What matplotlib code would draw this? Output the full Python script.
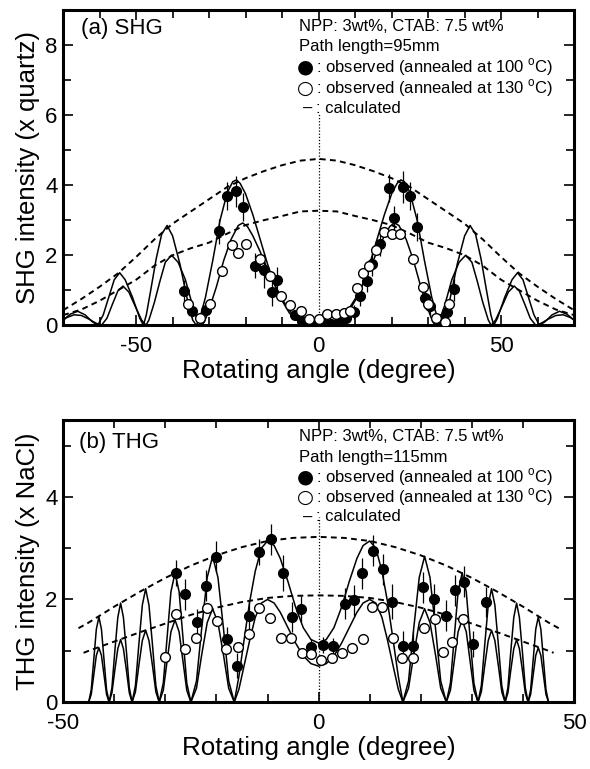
import numpy as np
import matplotlib
matplotlib.use('Agg')
import matplotlib.pyplot as plt
from matplotlib.ticker import MultipleLocator

plt.rcParams['font.family'] = ['Liberation Sans', 'DejaVu Sans']
plt.rcParams['axes.unicode_minus'] = False
plt.rcParams['mathtext.fontset'] = 'custom'
plt.rcParams['mathtext.rm'] = 'Liberation Sans'

# ---- (a) SHG, observed ----
shg_100_angle = [-37.0, -34.8, -30.9, -27.3, -25.0, -22.5, -20.6, -17.3, -15.0, -12.9,
                 -11.3, -6.5, -4.5, -2.5, -0.8, 1.5, 3.5, 5.5, 7.5, 9.6,
                 11.3, 13.3, 14.5, 16.8, 19.2, 20.6, 23.2, 25.0, 26.9, 29.2,
                 30.6, 33.5, 35.3, 37.0]
shg_100_value = [0.98, 0.40, 0.43, 2.68, 3.70, 3.82, 3.37, 1.70, 1.57, 0.95,
                 1.30, 0.30, 0.12, 0.06, 0.05, 0.05, 0.05, 0.08, 0.22, 0.38,
                 0.85, 1.25, 1.75, 2.32, 3.92, 3.05, 3.95, 3.70, 2.80, 0.78,
                 0.55, 0.18, 0.38, 1.05]
shg_100_error = [0.3, 0.15, 0.2, 0.35, 0.4, 0.45, 0.4, 0.35, 0.5, 0.4,
                 0.35, 0.1, 0.1, 0.05, 0.05, 0.05, 0.05, 0.1, 0.15, 0.2,
                 0.3, 0.3, 0.35, 0.35, 0.4, 0.35, 0.45, 0.4, 0.4, 0.3,
                 0.3, 0.15, 0.2, 0.35]
shg_130_angle = [-35.9, -32.5, -29.8, -26.6, -23.8, -22.0, -20.0, -16.0, -13.4, -10.3,
                 -7.9, -4.8, -2.6, 0.0, 2.4, 4.7, 7.0, 8.7, 10.6, 12.2,
                 13.7, 15.8, 17.9, 20.0, 22.3, 25.9, 28.7, 29.9, 32.3, 34.5,
                 35.8]
shg_130_value = [0.62, 0.20, 0.62, 1.56, 2.28, 2.05, 2.33, 1.88, 1.40, 0.85,
                 0.58, 0.40, 0.19, 0.17, 0.32, 0.31, 0.35, 0.42, 1.06, 1.50,
                 1.70, 2.16, 2.65, 2.62, 2.60, 1.88, 1.08, 0.62, 0.22, 0.10,
                 0.62]

# ---- (a) SHG, calculated (one side, curves are symmetric about 0) ----
shg_env_angle = [0, 5, 10, 15, 20, 25, 30, 35, 40, 45, 50, 55, 60, 65, 70]
shg_env_100 = [4.75, 4.70, 4.57, 4.40, 4.20, 3.95, 3.60, 3.25, 2.90, 2.45, 1.95, 1.48, 1.10, 0.75, 0.43]
shg_env_130 = [3.27, 3.25, 3.12, 3.00, 2.86, 2.62, 2.36, 2.20, 2.00, 1.70, 1.30, 1.00, 0.70, 0.45, 0.29]

shg_fit_100_angle = [0, 2, 4, 6, 8, 10, 12, 14, 16, 18, 20, 21.5, 22.5, 23.5, 25, 27, 29, 31, 32.5, 33.5,
                     34.5, 36, 38, 40, 41.5, 43, 44.5, 46, 47.2, 48,
                     49, 51, 53, 54.5, 56, 57.5, 59, 60.5,
                     62, 64, 66, 68, 70]
shg_fit_100_value = [0, 0.01, 0.05, 0.15, 0.35, 0.70, 1.15, 1.75, 2.45, 3.15, 3.75, 4.05, 4.15, 4.10, 3.80, 3.00, 1.85, 0.80, 0.22, 0,
                     0.15, 0.75, 1.75, 2.55, 2.85, 2.60, 1.90, 1.00, 0.30, 0,
                     0.20, 0.80, 1.30, 1.50, 1.30, 0.80, 0.30, 0,
                     0.10, 0.30, 0.40, 0.32, 0.15]
shg_fit_130_angle = [0, 2, 4, 6, 8, 10, 12, 14, 16, 18, 19.5, 20.8, 22, 24, 26, 28, 30, 31.3, 32,
                     33, 34.5, 36.5, 38.5, 40.3, 42, 43.5, 45, 46.5, 47.3,
                     48.5, 50.5, 52, 53.6, 55, 56.5, 58, 59.5,
                     61, 63, 65, 67, 69, 70]
shg_fit_130_value = [0, 0.02, 0.08, 0.20, 0.42, 0.75, 1.15, 1.60, 2.10, 2.55, 2.82, 2.92, 2.85, 2.45, 1.85, 1.10, 0.45, 0.10, 0,
                     0.12, 0.55, 1.30, 1.80, 2.00, 1.80, 1.25, 0.65, 0.15, 0,
                     0.15, 0.60, 0.95, 1.12, 0.98, 0.60, 0.20, 0,
                     0.06, 0.18, 0.28, 0.30, 0.22, 0.15]

# ---- (b) THG, observed ----
thg_100_angle = [-28.0, -26.2, -23.8, -22.1, -20.1, -17.9, -15.9, -13.7, -11.6, -9.4,
                 -7.0, -5.3, -3.5, -1.5, 0.8, 2.8, 5.2, 6.9, 8.4, 10.7,
                 12.7, 14.4, 16.6, 18.4, 20.5, 22.5, 24.9, 26.6, 28.5, 30.3,
                 32.7]
thg_100_value = [2.51, 2.10, 1.57, 2.27, 2.83, 1.22, 0.71, 1.67, 2.93, 3.17,
                 2.52, 1.66, 1.81, 1.07, 1.11, 1.09, 1.92, 1.98, 2.51, 2.95,
                 2.59, 1.96, 1.09, 1.09, 2.24, 2.01, 1.68, 2.18, 2.35, 1.13,
                 1.95]
thg_100_error = [0.25, 0.3, 0.25, 0.3, 0.3, 0.25, 0.25, 0.3, 0.25, 0.3,
                 0.35, 0.3, 0.25, 0.15, 0.15, 0.15, 0.3, 0.3, 0.3, 0.3,
                 0.3, 0.35, 0.3, 0.3, 0.3, 0.3, 0.3, 0.3, 0.3, 0.25,
                 0.3]
thg_130_angle = [-30.1, -28.0, -26.1, -24.0, -21.9, -19.9, -18.1, -15.7, -13.7, -11.6,
                 -9.6, -7.4, -5.4, -3.3, -1.5, 0.5, 2.6, 4.6, 6.5, 8.6,
                 10.4, 12.5, 14.5, 16.4, 18.4, 20.6, 22.7, 24.4, 26.2, 28.3]
thg_130_value = [0.87, 1.72, 1.04, 1.25, 1.84, 1.59, 1.04, 1.07, 1.33, 1.84,
                 1.64, 1.25, 1.25, 0.96, 0.94, 0.83, 0.86, 0.96, 1.06, 1.23,
                 1.85, 1.85, 1.25, 0.86, 0.86, 1.44, 1.62, 0.97, 1.18, 1.61]

# ---- (b) THG, calculated (one side) ----
thg_env_100_angle = [0, 5, 10, 15, 20, 25, 30, 35, 40, 45, 47]
thg_env_100 = [3.22, 3.20, 3.14, 3.02, 2.86, 2.66, 2.42, 2.15, 1.86, 1.55, 1.44]
thg_env_130_angle = [0, 5, 10, 15, 20, 25, 30, 35, 40, 45, 46]
thg_env_130 = [2.08, 2.07, 2.03, 1.95, 1.84, 1.70, 1.53, 1.36, 1.18, 1.00, 0.96]

thg_fit_angle = [0, 1.5, 3, 4.5, 6, 7.5, 8.7, 10, 11.2, 12.4, 13.5, 14.6, 15.6, 16.5,
                 17.6, 18.6, 19.7, 20.75, 21.8, 22.9, 23.9, 25,
                 25.8, 26.55, 27.3, 28.1, 28.9, 29.65, 30.4, 31.2,
                 31.85, 32.5, 33.2, 33.85, 34.5, 35.2, 35.85, 36.5,
                 37.05, 37.6, 38.2, 38.75, 39.3, 39.9, 40.45, 41,
                 41.5, 42, 42.5, 43, 43.5, 44, 44.5, 45]
thg_fit_100 = [1.15, 1.22, 1.45, 1.85, 2.35, 2.80, 3.05, 3.14, 3.00, 2.55, 1.95, 1.20, 0.50, 0,
               0.41, 1.42, 2.43, 2.84, 2.43, 1.42, 0.41, 0,
               0.37, 1.26, 2.15, 2.52, 2.15, 1.26, 0.37, 0,
               0.32, 1.10, 1.89, 2.21, 1.89, 1.10, 0.32, 0,
               0.28, 0.97, 1.65, 1.93, 1.65, 0.97, 0.28, 0,
               0.24, 0.83, 1.42, 1.66, 1.42, 0.83, 0.24, 0]
thg_fit_130 = [0.70, 0.75, 0.90, 1.15, 1.45, 1.75, 1.93, 2.00, 1.93, 1.65, 1.20, 0.70, 0.25, 0,
               0.27, 0.91, 1.55, 1.82, 1.55, 0.91, 0.27, 0,
               0.23, 0.80, 1.37, 1.60, 1.37, 0.80, 0.23, 0,
               0.20, 0.70, 1.20, 1.40, 1.20, 0.70, 0.20, 0,
               0.18, 0.61, 1.04, 1.22, 1.04, 0.61, 0.18, 0,
               0.15, 0.53, 0.91, 1.06, 0.91, 0.53, 0.15, 0]


def mirror(x, y):
    x = np.asarray(x, dtype=float)
    y = np.asarray(y, dtype=float)
    return np.concatenate([-x[:0:-1], x]), np.concatenate([y[:0:-1], y])


def style_axes(ax, xlim, ylim, xlabel, ylabel):
    ax.set_xlim(*xlim)
    ax.set_ylim(*ylim)
    ax.xaxis.set_major_locator(MultipleLocator(50))
    ax.xaxis.set_minor_locator(MultipleLocator(10))
    ax.yaxis.set_major_locator(MultipleLocator(2))
    ax.yaxis.set_minor_locator(MultipleLocator(1))
    ax.tick_params(which='both', direction='in', top=True, right=True, width=1.2)
    ax.tick_params(which='major', length=7, labelsize=16)
    ax.tick_params(which='minor', length=6)
    ax.tick_params(axis='x', which='major', pad=8)
    ax.tick_params(axis='y', which='major', pad=4)
    for sp in ax.spines.values():
        sp.set_linewidth(2.2)
    ax.set_xlabel(xlabel, fontsize=18.7, labelpad=1)
    ax.set_ylabel(ylabel, fontsize=18.5, labelpad=4)


def legend_block(ax, x0, ys, lines):
    fs = 12
    xt = 0.495
    ax.text(x0, ys[0], lines[0], transform=ax.transAxes, fontsize=fs, va='center')
    ax.text(x0, ys[1], lines[1], transform=ax.transAxes, fontsize=fs, va='center')
    ax.text(x0 - 0.004, ys[2], '\u25cf', transform=ax.transAxes, fontsize=14,
            va='center', family='DejaVu Sans')
    ax.text(x0 - 0.004, ys[3], '\u25cb', transform=ax.transAxes, fontsize=14,
            va='center', family='DejaVu Sans')
    ax.text(x0 + 0.008, ys[4], '\u2013', transform=ax.transAxes, fontsize=fs, va='center')
    obs = ': observed (annealed at {} $^{{\\mathrm{{o}}}}$C)'
    ax.text(xt, ys[2], obs.format(100), transform=ax.transAxes, fontsize=fs, va='center')
    ax.text(xt, ys[3], obs.format(130), transform=ax.transAxes, fontsize=fs, va='center')
    ax.text(xt, ys[4], ': calculated', transform=ax.transAxes, fontsize=fs, va='center')


def draw_panel(ax, env, fits, obs100, obs130, dotted_top):
    ax.vlines(0, 0, dotted_top, colors='k', linestyles=(0, (1, 1.5)), lw=0.9)
    for ex, ey in env:
        ax.plot(ex, ey, color='k', lw=1.4, dashes=(3, 2.2))
    for fx, fy in fits:
        ax.plot(fx, fy, color='k', lw=1.1)
    a, v, e = obs100
    ax.errorbar(a, v, yerr=e, fmt='none', ecolor='k', elinewidth=0.9, capsize=0)
    ax.plot(a, v, 'o', color='k', ms=7, zorder=4)
    a, v = obs130
    ax.plot(a, v, 'o', mfc='white', mec='k', mew=1.0, ms=7, zorder=5)


fig = plt.figure(figsize=(5.9, 7.69), dpi=100)
ax1 = fig.add_axes([0.107, 0.577, 0.866, 0.410])
ax2 = fig.add_axes([0.107, 0.087, 0.866, 0.367])

draw_panel(ax1,
           [mirror(shg_env_angle, shg_env_100), mirror(shg_env_angle, shg_env_130)],
           [mirror(shg_fit_100_angle, shg_fit_100_value), mirror(shg_fit_130_angle, shg_fit_130_value)],
           (shg_100_angle, shg_100_value, shg_100_error),
           (shg_130_angle, shg_130_value), 6.05)
style_axes(ax1, (-70, 70), (0, 9), 'Rotating angle (degree)', 'SHG intensity (x quartz)')
ax1.text(0.034, 0.94, '(a) SHG', transform=ax1.transAxes, fontsize=16, va='center')
legend_block(ax1, 0.462, [0.948, 0.883, 0.818, 0.751, 0.687],
             ['NPP: 3wt%, CTAB: 7.5 wt%', 'Path length=95mm'])

draw_panel(ax2,
           [mirror(thg_env_100_angle, thg_env_100), mirror(thg_env_130_angle, thg_env_130)],
           [mirror(thg_fit_angle, thg_fit_100), mirror(thg_fit_angle, thg_fit_130)],
           (thg_100_angle, thg_100_value, thg_100_error),
           (thg_130_angle, thg_130_value), 3.6)
style_axes(ax2, (-50, 50), (0, 5.5), 'Rotating angle (degree)', 'THG intensity (x NaCl)')
ax2.text(0.031, 0.92, '(b) THG', transform=ax2.transAxes, fontsize=16, va='center')
legend_block(ax2, 0.462, [0.940, 0.868, 0.796, 0.726, 0.656],
             ['NPP: 3wt%, CTAB: 7.5 wt%', 'Path length=115mm'])

fig.savefig('out.png', dpi=100)
